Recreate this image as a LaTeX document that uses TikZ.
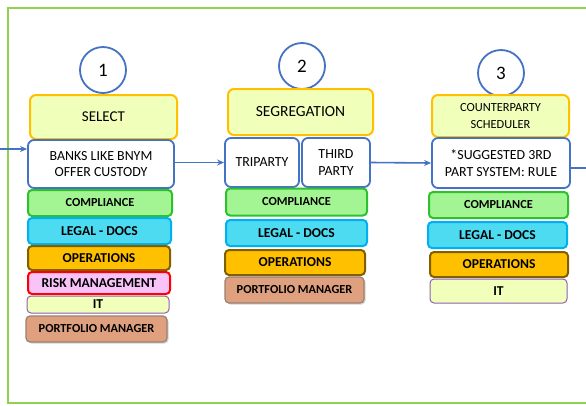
\documentclass[tikz,border=0pt]{standalone}
\usepackage{fontspec}
\setmainfont{Carlito}
\usetikzlibrary{arrows.meta,shadows}

\definecolor{frameg}{HTML}{92D050}
\definecolor{stepblue}{HTML}{4472C4}
\definecolor{headfill}{HTML}{F0FFBA}
\definecolor{headline}{HTML}{FFC000}
\definecolor{compfill}{HTML}{A3F593}
\definecolor{compline}{HTML}{2EC12E}
\definecolor{legalfill}{HTML}{4DDBF2}
\definecolor{legalline}{HTML}{00B0F0}
\definecolor{opsfill}{HTML}{FFC000}
\definecolor{opsline}{HTML}{7F6000}
\definecolor{riskfill}{HTML}{F9C3F9}
\definecolor{riskline}{HTML}{FF0000}
\definecolor{itline}{HTML}{9060B0}
\definecolor{pmfill}{HTML}{DFA07F}
\definecolor{pmline}{HTML}{9A8070}

\begin{document}
\begin{tikzpicture}[x=1pt,y=-1pt,
  stepnum/.style={circle,draw=stepblue,line width=1.8pt,fill=white,minimum size=46pt,inner sep=0pt,font=\fontsize{19}{19}\selectfont},
  head/.style={rectangle,rounded corners=6pt,draw=headline,line width=2pt,fill=headfill,inner sep=0pt,align=center},
  info/.style={rectangle,rounded corners=6pt,draw=stepblue,line width=1.8pt,fill=white,inner sep=0pt,align=center,font=\fontsize{13.9}{16.7}\selectfont},
  dept/.style={rectangle,rounded corners=4pt,line width=2pt,inner sep=0pt,font=\bfseries\fontsize{13.6}{13.6}\selectfont},
  comp/.style={dept,draw=compline,fill=compfill,font=\bfseries\fontsize{12.3}{12.3}\selectfont},
  legal/.style={dept,draw=legalline,fill=legalfill},
  ops/.style={dept,draw=opsline,fill=opsfill},
  risk/.style={dept,draw=riskline,fill=riskfill},
  itbox/.style={dept,draw=itline,fill=headfill,line width=1pt},
  pm/.style={dept,draw=pmline,fill=pmfill,line width=1.2pt,font=\bfseries\fontsize{12.3}{12.3}\selectfont,drop shadow={shadow xshift=1.5pt,shadow yshift=-1.5pt,opacity=0.35}},
  flow/.style={-{Stealth[length=7pt,width=6pt]},draw=stepblue,line width=1.6pt}]
\useasboundingbox (0,0) rectangle (586,405);
\clip (0,0) rectangle (586,405);
\draw[frameg,line width=2pt] (8,8) rectangle (640,403);

\foreach \n/\x/\y in {1/103/70,2/302/66,3/501/73} {
\node[stepnum] (num\n) at (\x,\y) {\n};
}

% step 1
\node[head,minimum width=147pt,minimum height=44pt,font=\fontsize{15}{15}\selectfont] (select) at (103.5,117) {SELECT};
\node[info,minimum width=146pt,minimum height=48pt] (banks) at (101,164) {BANKS LIKE BNYM\\OFFER CUSTODY};
\node[comp,minimum width=144pt,minimum height=26pt] (comp1) at (100,203) {COMPLIANCE};
\node[legal,minimum width=143pt,minimum height=26pt] (legal1) at (99.5,231) {LEGAL - DOCS};
\node[ops,minimum width=142pt,minimum height=24pt] (ops1) at (99,258) {OPERATIONS};
\node[risk,minimum width=142pt,minimum height=22pt] (risk1) at (99,283) {RISK MANAGEMENT};
\node[itbox,minimum width=142pt,minimum height=17pt] (it1) at (98,304.5) {IT};
\node[pm,minimum width=141pt,minimum height=26pt] (pm1) at (96.5,329) {PORTFOLIO MANAGER};

% step 2
\node[head,minimum width=145pt,minimum height=46pt,font=\fontsize{15.5}{15.5}\selectfont] (segr) at (300.5,112) {SEGREGATION};
\node[info,minimum width=74pt,minimum height=49pt] (tri) at (262,162.5) {TRIPARTY};
\node[info,minimum width=68pt,minimum height=49pt] (third) at (336,162.5) {THIRD\\PARTY};
\node[comp,minimum width=141pt,minimum height=27pt] (comp2) at (296.5,202) {COMPLIANCE};
\node[legal,minimum width=141pt,minimum height=26pt] (legal2) at (296.5,233) {LEGAL - DOCS};
\node[ops,minimum width=140pt,minimum height=25pt] (ops2) at (295,262.5) {OPERATIONS};
\node[pm,minimum width=139pt,minimum height=26pt] (pm2) at (294.5,290) {PORTFOLIO MANAGER};

% step 3
\node[head,minimum width=137pt,minimum height=42pt,font=\fontsize{12.4}{16.5}\selectfont] (sched) at (500.5,116) {COUNTERPARTY\\SCHEDULER};
\node[info,minimum width=138pt,minimum height=50pt] (sugg) at (501,163) {*SUGGESTED 3RD\\PART SYSTEM: RULE};
\node[comp,minimum width=139pt,minimum height=26pt] (comp3) at (498.5,205) {COMPLIANCE};
\node[legal,minimum width=139pt,minimum height=26pt] (legal3) at (497.5,235) {LEGAL - DOCS};
\node[ops,minimum width=138pt,minimum height=25pt] (ops3) at (499,264.5) {OPERATIONS};
\node[itbox,minimum width=137pt,minimum height=24pt] (it3) at (498.5,291) {IT};

% connectors
\coordinate (entry) at (0,149);
\coordinate (exit) at (600,168);
\draw[flow] (entry) -- (entry -| banks.west);
\draw[flow] (banks.east |- tri.west) -- (tri.west);
\draw[flow] (third.east) -- (sugg.west);
\draw[flow] (sugg.east |- exit) -- (exit);
\end{tikzpicture}
\end{document}
